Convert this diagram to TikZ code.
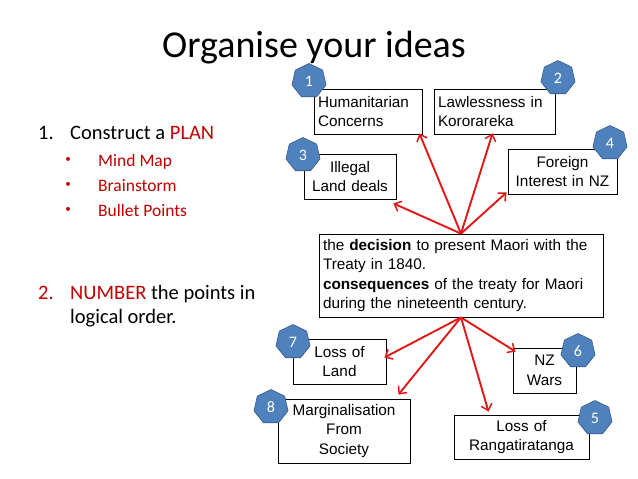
\documentclass[tikz,border=0pt]{standalone}
\usepackage{fontspec}
\setmainfont{Carlito}
\newfontfamily\arialfont{Liberation Sans}
\usetikzlibrary{shapes.geometric,arrows.meta,calc}
\definecolor{darkred}{RGB}{192,0,0}
\definecolor{arrowred}{RGB}{226,24,24}
\definecolor{heptfill}{RGB}{79,129,189}
\definecolor{heptdraw}{RGB}{56,93,138}
\begin{document}
\begin{tikzpicture}[x=1pt,y=-1pt,
  bx/.style={draw=black, line width=0.8pt, inner xsep=4pt, inner ysep=1pt,
    font=\arialfont\fontsize{15.3}{19.5}\selectfont},
  hept/.style={regular polygon, regular polygon sides=7, minimum size=35pt,
    inner sep=0pt, fill=heptfill, draw=heptdraw, line width=0.6pt,
    text=white, font=\fontsize{16}{16}\selectfont},
  arr/.style={draw=arrowred, line width=1.9pt,
    -{Straight Barb[length=6pt,width=11pt,line width=1.5pt]}},
  lefttxt/.style={anchor=base west, inner sep=0pt},
  bul/.style={anchor=center, inner sep=0pt, font=\fontsize{11}{11}\selectfont, text=darkred}]
\useasboundingbox (0,0) rectangle (638,479);
\fill[white] (0,0) rectangle (638,479);

% title and left text
\node[anchor=base, inner sep=0pt, font=\fontsize{38}{38}\selectfont] (title) at (314,57) {Organise your ideas};
\node[lefttxt, font=\fontsize{20.5}{20.5}\selectfont] (one) at (38,139) {1.};
\node[lefttxt, font=\fontsize{20.5}{20.5}\selectfont] (plan) at (70,139) {Construct a \textcolor{darkred}{PLAN}};
\node[bul] (b1) at (68,160) {\textbullet};
\node[lefttxt, font=\fontsize{17.5}{17.5}\selectfont, text=darkred] (t1) at (98,166) {Mind Map};
\node[bul] (b2) at (68,185) {\textbullet};
\node[lefttxt, font=\fontsize{17.5}{17.5}\selectfont, text=darkred] (t2) at (98,191) {Brainstorm};
\node[bul] (b3) at (68,210) {\textbullet};
\node[lefttxt, font=\fontsize{17.5}{17.5}\selectfont, text=darkred] (t3) at (98,216) {Bullet Points};
\node[lefttxt, font=\fontsize{20.5}{20.5}\selectfont, text=darkred] (two) at (38,299) {2.};
\node[lefttxt, font=\fontsize{20.5}{20.5}\selectfont] (num) at (70,299) {\textcolor{darkred}{NUMBER} the points in};
\node[lefttxt, font=\fontsize{20.5}{20.5}\selectfont] (logic) at (70,323) {logical order.};

% boxes
\node[bx, text width=100pt, minimum height=45pt, align=left] (hum) at (368,111.5) {Humanitarian\\Concerns};
\node[bx, text width=113pt, minimum height=45pt, align=left] (law) at (494.5,111.5) {Lawlessness in\\Kororareka};
\node[bx, text width=84pt, minimum height=45pt, align=center] (ill) at (350,176.5) {Illegal\\Land deals};
\node[bx, text width=101pt, minimum height=45pt, align=center] (for) at (562.5,171.5) {Foreign\\Interest in NZ};
\node[bx, text width=276pt, minimum height=83pt, align=left] (cen) at (461,275.5) {the \textbf{decision} to present Maori with the\\Treaty in 1840.\\\textbf{consequences} of the treaty for Maori\\during the nineteenth century.};
\node[bx, text width=85pt, minimum height=45pt, align=center] (land) at (339.5,361.5) {Loss of\\Land};
\node[bx, text width=55pt, minimum height=45pt, align=center] (wars) at (544.5,370.5) {NZ\\Wars};
\node[bx, text width=124pt, minimum height=64pt, align=center] (marg) at (344,431) {Marginalisation\\From\\Society};
\node[bx, text width=127pt, minimum height=44pt, align=center] (rang) at (521.5,437) {Loss of\\Rangatiratanga};

% arrows
\draw[arr] (cen.north) -- ($(hum.south east)+(-3,-1)$);
\draw[arr] (cen.north) -- ($(law.south)+(-2,-1)$);
\draw[arr] (cen.north) -- ($(ill.south east)+(-3,4)$);
\draw[arr] (cen.north) -- ($(for.south west)+(-1,-2)$);
\draw[arr] (cen.south) -- ($(land.east)+(-2,-4)$);
\draw[arr] (cen.south) -- ($(marg.north east)+(-12,-4)$);
\draw[arr] (cen.south) -- ($(rang.north)+(-33,-3)$);
\draw[arr] (cen.south) -- ($(wars.north west)+(3,4)$);

% heptagons
\node[hept] (h1) at (309,81) {1};
\node[hept] (h2) at (558,78) {2};
\node[hept] (h3) at (303,155) {3};
\node[hept] (h4) at (610,143) {4};
\node[hept] (h5) at (595,418) {5};
\node[hept] (h6) at (578,351) {6};
\node[hept] (h7) at (293,342) {7};
\node[hept] (h8) at (271,407) {8};
\end{tikzpicture}
\end{document}
